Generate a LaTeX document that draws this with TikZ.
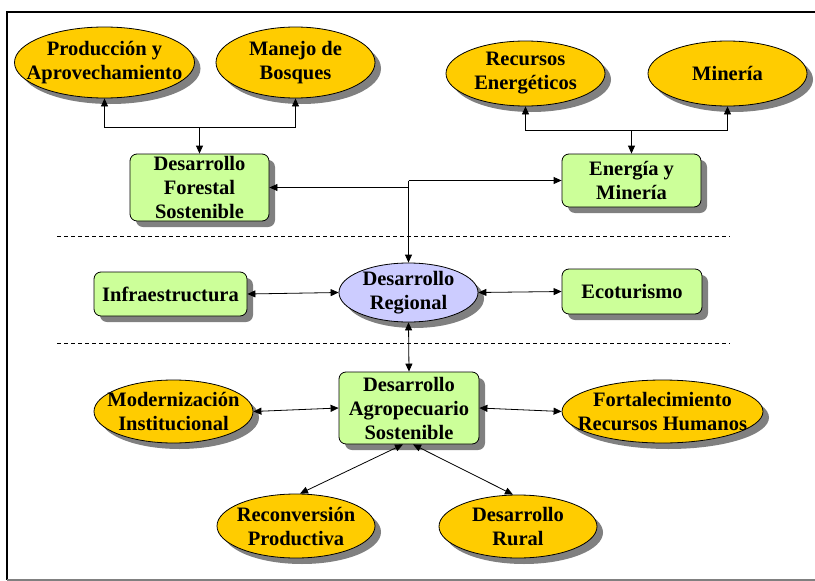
\documentclass[tikz,border=0pt]{standalone}
\usepackage{fontspec}
\setmainfont{Liberation Serif}
\usetikzlibrary{arrows.meta,shadows,shapes.geometric}
\definecolor{gold}{HTML}{FFCC00}
\definecolor{lgreen}{HTML}{CCFF99}
\definecolor{lblue}{HTML}{CCCCFF}
\definecolor{shad}{HTML}{808080}
\begin{document}
\begin{tikzpicture}[x=1pt,y=-1pt,
 txt/.style={font=\bfseries\fontsize{20.5}{24}\selectfont, align=center, inner sep=0pt},
 base/.style={draw=black, line width=0.8pt, inner sep=0pt,
   drop shadow={shadow xshift=6pt, shadow yshift=-6pt, fill=shad, opacity=1}},
 oval/.style={base, ellipse, fill=gold},
 box/.style={base, rectangle, rounded corners=7pt, fill=lgreen},
 conn/.style={line width=0.8pt, -{Triangle[length=8pt,width=7pt]}},
 bconn/.style={line width=0.8pt, {Triangle[length=8pt,width=7pt]}-{Triangle[length=8pt,width=7pt]}},
 sep/.style={line width=0.6pt, dash pattern=on 4pt off 3pt},
]
\useasboundingbox (0,0) rectangle (815,581);
% frame
\draw[line width=1.2pt] (815,12) -- (7,12) -- (7,580);
\draw[shad, line width=1.2pt] (7,580) -- (815,580);
% separators
\draw[sep] (57,236) -- (730,236);
\draw[sep] (57,343) -- (730,343);

% top row
\node[oval, minimum width=180pt, minimum height=71pt,
  label={[txt]center:Producción y\\Aprovechamiento}] (prod) at (104.5,62.5) {};
\node[oval, minimum width=159pt, minimum height=71pt,
  label={[txt]center:Manejo de\\Bosques}] (manejo) at (295.5,62.5) {};
\node[oval, minimum width=159pt, minimum height=65pt,
  label={[txt]center:Recursos\\Energéticos}] (recursos) at (525.5,73.5) {};
\node[oval, minimum width=159pt, minimum height=65pt,
  label={[txt]center:Minería}] (mineria) at (727.5,73.5) {};

\node[box, minimum width=139pt, minimum height=67pt,
  label={[txt]center:Desarrollo\\Forestal\\Sostenible}] (forestal) at (199.5,187.5) {};
\node[box, minimum width=139pt, minimum height=53pt,
  label={[txt]center:Energía y\\Minería}] (energia) at (631.5,180.5) {};

% middle row
\node[box, minimum width=153pt, minimum height=44pt,
  label={[txt]center:Infraestructura}] (infra) at (170.5,294) {};
\node[base, ellipse, fill=lblue, minimum width=139pt, minimum height=59pt,
  label={[txt]center:Desarrollo\\Regional}] (regional) at (408.5,292.5) {};
\node[box, minimum width=140pt, minimum height=45pt,
  label={[txt]center:Ecoturismo}] (eco) at (632,291.5) {};

% bottom
\node[box, minimum width=140pt, minimum height=72pt,
  label={[txt]center:Desarrollo\\Agropecuario\\Sostenible}] (agro) at (409,408) {};
\node[oval, minimum width=159pt, minimum height=63pt,
  label={[txt]center:Modernización\\Institucional}] (modern) at (173.5,411.5) {};
\node[oval, minimum width=201pt, minimum height=63pt,
  label={[txt]center:Fortalecimiento\\Recursos Humanos}] (fort) at (662.5,411.5) {};
\node[oval, minimum width=158pt, minimum height=64pt,
  label={[txt]center:Reconversión\\Productiva}] (reco) at (296,526) {};
\node[oval, minimum width=158pt, minimum height=63pt,
  label={[txt]center:Desarrollo\\Rural}] (rural) at (518,526.5) {};

% junctions
\coordinate (j1) at (199.5,127);
\coordinate (j4) at (631.5,130);
\coordinate (j2) at (408.5,187.5);
\coordinate (j3) at (408.5,180.5);

% top-left connectors
\draw[conn] (j1) -- (forestal);
\draw[conn] (j1) -| (prod);
\draw[conn] (j1) -| (manejo);
% top-right connectors
\draw[conn] (j4) -- (energia);
\draw[conn] (j4) -| (recursos);
\draw[conn] (j4) -| (mineria);
% central connectors
\draw[conn] (j2) -- (forestal);
\draw[conn] (j3) -- (energia);
\draw[line width=0.8pt] (j3) -- (j2);
\draw[conn] (j2) -- (regional);

\draw[bconn] (infra.east) -- (regional.west);
\draw[bconn] (regional.east) -- (eco.west);
\draw[bconn] (regional.south) -- (agro.north);

\draw[bconn] (modern.east) -- (agro.west);
\draw[bconn] (agro.east) -- (fort.west);
\draw[bconn] ([xshift=-6pt]agro.south) -- ([xshift=4pt]reco.north);
\draw[bconn] ([xshift=4pt]agro.south) -- ([xshift=-5pt]rural.north);
\end{tikzpicture}
\end{document}
